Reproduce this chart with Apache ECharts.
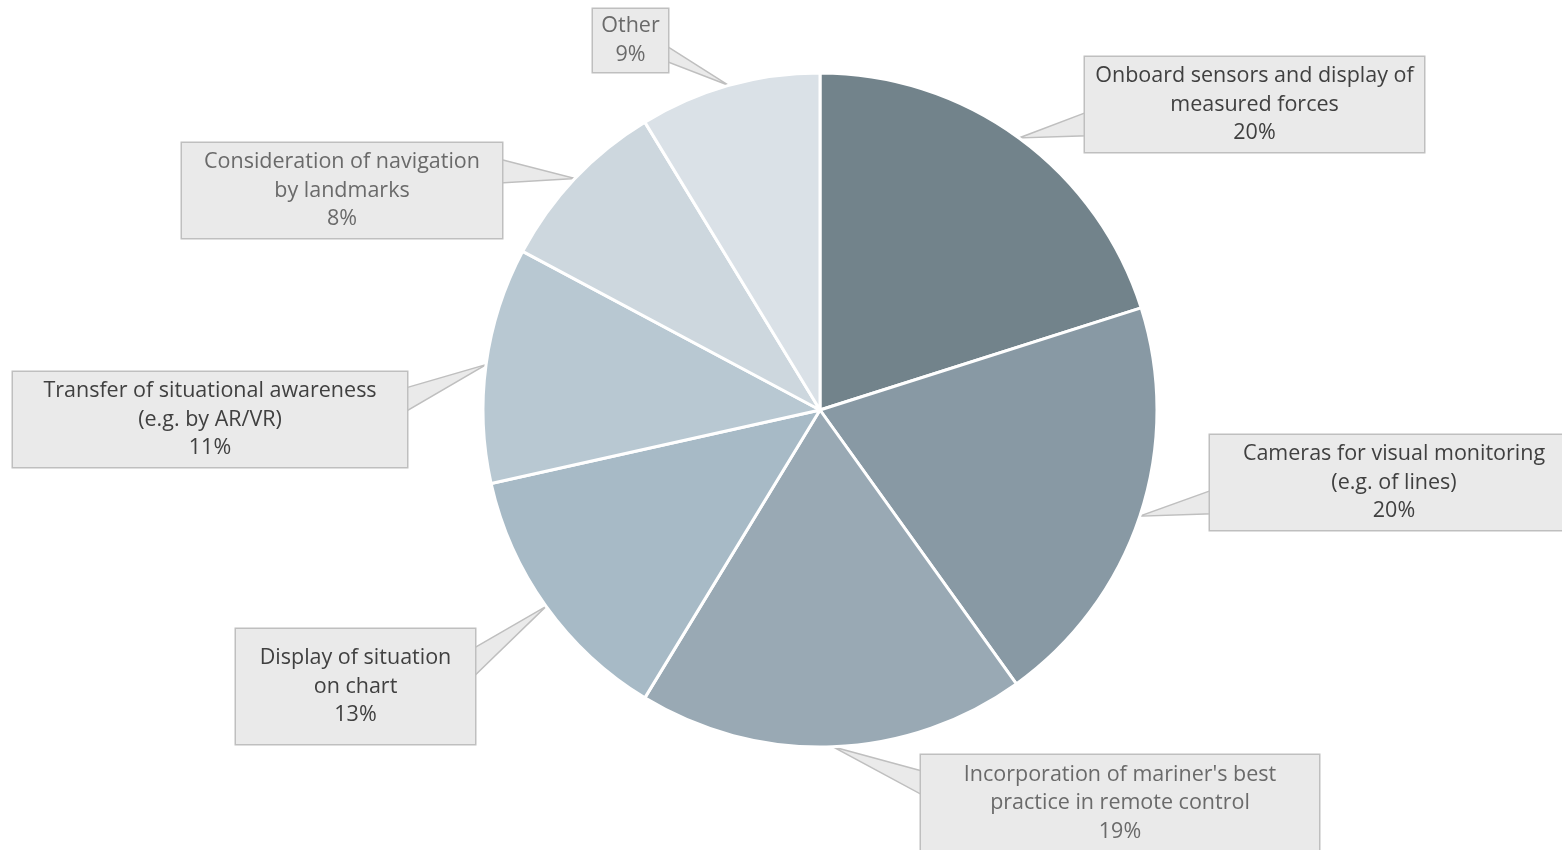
<!DOCTYPE html>
<html><head><meta charset="utf-8">
<script src="https://cdn.jsdelivr.net/npm/echarts@6/dist/echarts.min.js"></script>
<style>html,body{margin:0;padding:0;background:#fff}#c{width:1562px;height:850px}</style>
</head><body><div id="c"></div>
<script>
// ---- data ----
const categories = [
  "Onboard sensors and display of\nmeasured forces",
  "Cameras for visual monitoring\n(e.g. of lines)",
  "Incorporation of mariner's best\npractice in remote control",
  "Display of situation\non chart",
  "Transfer of situational awareness\n(e.g. by AR/VR)",
  "Consideration of navigation\nby landmarks",
  "Other"
];
const values = [20.1, 20.0, 18.6, 12.8, 11.3, 8.5, 8.7];

// ---- styles / layout (kept separate from data) ----
const sliceColors = ['#72838b', '#8899a4', '#99a9b4', '#a7bac6', '#b8c8d2', '#cdd7de', '#dae1e7'];
const labelColors = ['#404040', '#404040', '#6a6a6a', '#404040', '#404040', '#6a6a6a', '#6a6a6a'];
// label box placement: [centerX, centerY, width, height]
const labelBoxes = [
  [1254.5, 104.5, 339, 95],
  [1394, 482.5, 368, 95],
  [1120, 803, 398, 96],
  [355.5, 686.5, 239, 115],
  [210, 419.5, 394, 95],
  [342, 190.5, 320, 95],
  [630.5, 40.5, 75, 63]
];
const LINE_H = 28.5;
const BOX_BG = '#eaeaea', BOX_BORDER = '#bfbfbf';

const chart = echarts.init(document.getElementById('c'), null, {renderer: 'canvas'});

const seriesData = categories.map((name, i) => {
  const b = labelBoxes[i];
  const lines = name.split('\n').length + 1;
  const padV = Math.max(0, (b[3] - lines * LINE_H) / 2);
  return {
    name: name,
    value: values[i],
    itemStyle: {color: sliceColors[i]},
    label: {
      color: labelColors[i],
      width: b[2] - 8,
      padding: [padV, 4, padV, 4]
    }
  };
});

chart.setOption({
  animation: false,
  backgroundColor: '#ffffff',
  series: [{
    type: 'pie',
    center: [820, 410],
    radius: 337,
    startAngle: 90,
    clockwise: true,
    percentPrecision: 0,
    avoidLabelOverlap: false,
    itemStyle: {borderColor: '#ffffff', borderWidth: 3},
    label: {
      show: true,
      position: 'outside',
      formatter: '{b}\n{d}%',
      fontFamily: 'Open Sans',
      fontSize: 21.5,
      lineHeight: LINE_H,
      align: 'center',
      overflow: 'none',
      backgroundColor: BOX_BG,
      borderColor: BOX_BORDER,
      borderWidth: 1.5
    },
    labelLine: {show: false},
    labelLayout: function (p) {
      const b = labelBoxes[p.dataIndex];
      return {x: b[0], y: b[1], align: 'center', verticalAlign: 'middle'};
    },
    emphasis: {disabled: true},
    data: seriesData
  }]
});

// callout wedges, anchored at each slice's mid-angle point from the library's layout
const pieData = chart.getModel().getSeriesByIndex(0).getData();
const wedges = labelBoxes.map((b, i) => {
  const L = pieData.getItemLayout(i);
  const mid = (L.startAngle + L.endAngle) / 2;
  const tx = L.cx + L.r * Math.cos(mid);
  const ty = L.cy + L.r * Math.sin(mid);
  const left = b[0] - b[2] / 2, right = b[0] + b[2] / 2, top = b[1] - b[3] / 2;
  const onLeft = tx < left;
  const ex = onLeft ? left + 2 : right - 2;
  const f = ty > b[1] ? [0.58, 0.83] : [0.17, 0.42];
  return {
    type: 'polygon',
    z: 1,
    silent: true,
    shape: {points: [[ex, top + f[0] * b[3]], [tx, ty], [ex, top + f[1] * b[3]]]},
    style: {fill: BOX_BG, stroke: BOX_BORDER, lineWidth: 1.5}
  };
});
chart.setOption({graphic: {elements: wedges}});
</script>
</body></html>
